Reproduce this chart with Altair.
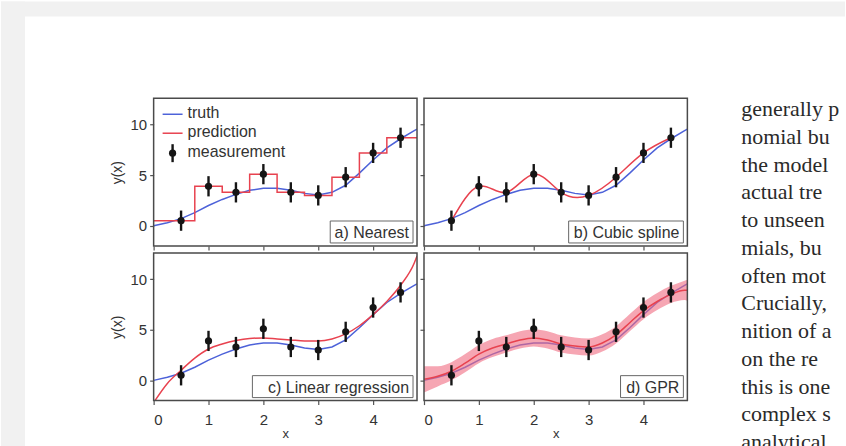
import altair as alt
import pandas as pd

# ---------------- data ----------------
meas_x = [0.5, 1.0, 1.5, 2.0, 2.5, 3.0, 3.5, 4.0, 4.5]
meas_y = [0.5, 3.9, 3.3, 5.1, 3.3, 3.0, 4.8, 7.2, 8.7]
meas_err = [1.0, 1.0, 1.0, 1.0, 1.0, 1.0, 1.0, 1.0, 1.0]

grid_x = [0.0, 0.25, 0.5, 0.75, 1.0, 1.25, 1.5, 1.75, 2.0, 2.25, 2.5, 2.75,
          3.0, 3.25, 3.5, 3.75, 4.0, 4.25, 4.5, 4.75, 4.8]
truth_y = [0.0, 0.3, 0.7, 1.3, 2.0, 2.6, 3.1, 3.5, 3.7, 3.7, 3.5, 3.2,
           3.05, 3.3, 4.0, 5.2, 6.5, 7.7, 8.6, 9.4, 9.55]

nearest_x = [0.0, 0.75, 1.25, 1.75, 2.25, 2.75, 3.25, 3.75, 4.25, 4.8]
nearest_y = [0.5, 3.9, 3.3, 5.1, 3.3, 3.0, 4.8, 7.2, 8.7, 8.7]

linreg_y = [-2.2, -0.3, 1.0, 2.2, 3.1, 3.6, 3.95, 4.15, 4.2, 4.1, 4.0, 3.9,
            3.9, 4.1, 4.6, 5.4, 6.5, 7.8, 9.4, 11.6, 12.3]

gpr_mean = [0.1, 0.4, 0.9, 1.7, 2.6, 3.2, 3.6, 4.0, 4.2, 4.0, 3.6, 3.4,
            3.3, 3.7, 4.5, 5.7, 6.9, 7.8, 8.5, 8.9, 8.9]
gpr_lo = [-1.2, -0.6, 0.0, 0.8, 1.7, 2.3, 2.75, 3.15, 3.35, 3.15, 2.75, 2.55,
          2.45, 2.85, 3.65, 4.85, 6.05, 6.95, 7.65, 7.95, 7.85]
gpr_hi = [1.4, 1.4, 1.8, 2.6, 3.5, 4.1, 4.45, 4.85, 5.05, 4.85, 4.45, 4.25,
          4.15, 4.55, 5.35, 6.55, 7.75, 8.65, 9.35, 9.85, 9.95]

panel_labels = ["a) Nearest", "b) Cubic spline", "c) Linear regression", "d) GPR"]
legend_labels = ["truth", "prediction", "measurement"]

text_lines = ["generally p", "nomial bu", "the model", "actual tre", "to unseen",
              "mials, bu", "often mot", "Crucially,", "nition of a", "on the re",
              "this is one", "complex s", "analytical"]

# ---------------- style ----------------
W, H = 264, 148
XDOM = [0, 4.8]
YDOM = [-2.0, 12.6]
BLUE = "#4d62d9"
RED = "#e8424f"
PINK = "#f06a80"
INK = "#151515"
FRAME = "#4a4a4a"
SANS = "Liberation Sans"
SERIF = "Liberation Serif"

truth_df = pd.DataFrame({"x": grid_x, "y": truth_y})
meas_df = pd.DataFrame({"x": meas_x, "y": meas_y, "e": meas_err})
near_df = pd.DataFrame({"x": nearest_x, "y": nearest_y})
lin_df = pd.DataFrame({"x": grid_x, "y": linreg_y})
gpr_df = pd.DataFrame({"x": grid_x, "y": gpr_mean, "lo": gpr_lo, "hi": gpr_hi})
one = pd.DataFrame({"k": [0]})


def xenc(bottom, field="x"):
    if bottom:
        ax = alt.Axis(values=[0, 1, 2, 3, 4], title="x", format="d",
                      labelPadding=8, titlePadding=0, titleFontSize=13)
    else:
        ax = alt.Axis(values=[0, 1, 2, 3, 4], labels=False, title=None)
    return alt.X(f"{field}:Q", scale=alt.Scale(domain=XDOM, nice=False, zero=False), axis=ax)


def yenc(left, field="y"):
    if left:
        ax = alt.Axis(values=[0, 5, 10], title="y(x)", labelPadding=3, titlePadding=6)
    else:
        ax = alt.Axis(values=[0, 5, 10], labels=False, title=None)
    return alt.Y(f"{field}:Q", scale=alt.Scale(domain=YDOM, nice=False, zero=False), axis=ax)


def common_layers(bottom, left):
    truth = alt.Chart(truth_df).mark_line(color=BLUE, strokeWidth=1.5, clip=True).encode(
        x=xenc(bottom), y=yenc(left))
    err = alt.Chart(meas_df).transform_calculate(
        lo="datum.y - datum.e", hi="datum.y + datum.e"
    ).mark_rule(color=INK, strokeWidth=2.4).encode(
        x=xenc(bottom), y=yenc(left, "lo"), y2="hi:Q")
    pts = alt.Chart(meas_df).mark_point(filled=True, shape="circle", size=52,
                                         color=INK, opacity=1).encode(
        x=xenc(bottom), y=yenc(left))
    return truth, err, pts


def label_layers(label, box_w):
    box = alt.Chart(one).mark_rect(fill="white", stroke="#666", strokeWidth=1).encode(
        x=alt.value(W - 5 - box_w), x2=alt.value(W - 4),
        y=alt.value(H - 25), y2=alt.value(H - 3))
    txt = alt.Chart(one).mark_text(align="right", baseline="middle", font=SANS,
                                    fontSize=16, color="#333").encode(
        x=alt.value(W - 8), y=alt.value(H - 13), text=alt.value(label))
    return box, txt


def frame():
    return alt.Chart(one).mark_rect(fillOpacity=0, stroke=FRAME, strokeWidth=1.5).encode(
        x=alt.value(0), x2=alt.value(W), y=alt.value(0), y2=alt.value(H))


# ---- panel a : nearest ----
strip_left = alt.Chart(one).mark_rect(color="#f1f1f1").encode(
    x=alt.value(-153), x2=alt.value(-129), y=alt.value(-97), y2=alt.value(349))
strip_top = alt.Chart(one).mark_rect(color="#f1f1f1").encode(
    x=alt.value(-153), x2=alt.value(693), y=alt.value(-97), y2=alt.value(-82))

ta, ea, pa = common_layers(False, True)
pred_a = alt.Chart(near_df).mark_line(color=RED, strokeWidth=1.5, interpolate="step-after",
                                      clip=True).encode(x=xenc(False), y=yenc(True))
leg_truth = alt.Chart(one).mark_rule(color=BLUE, strokeWidth=1.5).encode(
    x=alt.value(9), x2=alt.value(29), y=alt.value(16))
leg_pred = alt.Chart(one).mark_rule(color=RED, strokeWidth=1.5).encode(
    x=alt.value(9), x2=alt.value(29), y=alt.value(35))
leg_err = alt.Chart(one).mark_rule(color=INK, strokeWidth=2.4).encode(
    x=alt.value(19), y=alt.value(46), y2=alt.value(64))
leg_pt = alt.Chart(one).mark_point(filled=True, shape="circle", size=52, color=INK,
                                    opacity=1).encode(x=alt.value(19), y=alt.value(55))
leg_txt = [
    alt.Chart(one).mark_text(align="left", baseline="middle", font=SANS, fontSize=16,
                             color="#333").encode(x=alt.value(34), y=alt.value(yy),
                                                  text=alt.value(lab))
    for lab, yy in zip(legend_labels, [15, 34, 54])
]
box_a, txt_a = label_layers(panel_labels[0], 82)
panel_a = alt.layer(strip_left, strip_top, ta, pred_a, ea, pa, leg_truth, leg_pred,
                    leg_err, leg_pt, *leg_txt, box_a, txt_a, frame()).properties(
    width=W, height=H)

# ---- panel b : cubic spline (+ the page text beside the figure) ----
tb, eb, pb = common_layers(False, False)
pred_b = alt.Chart(meas_df).mark_line(color=RED, strokeWidth=1.5, interpolate="natural",
                                      clip=True).encode(x=xenc(False), y=yenc(False))
box_b, txt_b = label_layers(panel_labels[1], 114)
text_df = pd.DataFrame({"line": text_lines, "i": list(range(len(text_lines)))})
text_col = alt.Chart(text_df).transform_calculate(
    py="11 + 27.8 * datum.i"
).mark_text(align="left", baseline="middle", font=SERIF, fontSize=22, color="#2a2a2a",
            limit=104, ellipsis="").encode(
    x=alt.value(318), y=alt.Y("py:Q", scale=None), text="line:N")
panel_b = alt.layer(tb, pred_b, eb, pb, box_b, txt_b, frame(), text_col).properties(
    width=W, height=H)

# ---- panel c : linear regression ----
tc, ec, pc = common_layers(True, True)
pred_c = alt.Chart(lin_df).mark_line(color=RED, strokeWidth=1.5, interpolate="monotone",
                                     clip=True).encode(x=xenc(True), y=yenc(True))
box_c, txt_c = label_layers(panel_labels[2], 160)
panel_c = alt.layer(tc, pred_c, ec, pc, box_c, txt_c, frame()).properties(width=W, height=H)

# ---- panel d : GPR ----
td, ed, pd_ = common_layers(True, False)
band_d = alt.Chart(gpr_df).mark_area(color=PINK, opacity=0.6, interpolate="monotone",
                                     clip=True).encode(
    x=xenc(True), y=yenc(False, "lo"), y2="hi:Q")
pred_d = alt.Chart(gpr_df).mark_line(color=RED, strokeWidth=1.5, interpolate="monotone",
                                     clip=True).encode(x=xenc(True), y=yenc(False))
box_d, txt_d = label_layers(panel_labels[3], 62)
panel_d = alt.layer(td, band_d, pred_d, ed, pd_, box_d, txt_d, frame()).properties(
    width=W, height=H)

chart = alt.concat(panel_a, panel_b, panel_c, panel_d, columns=2, spacing=7,
                   bounds="flush").properties(
    padding={"left": 0, "top": 0, "right": 0, "bottom": 0},
    background="white",
).configure_view(stroke="transparent").configure_axis(
    grid=False, domain=False, tickSize=4, tickWidth=1.2, tickColor="#555",
    labelFont=SANS, labelFontSize=15, labelColor="#333",
    titleFont=SANS, titleFontSize=14, titleColor="#333", titleFontWeight="normal",
)

chart.save("out.html", embed_options={"renderer": "svg", "actions": False})
